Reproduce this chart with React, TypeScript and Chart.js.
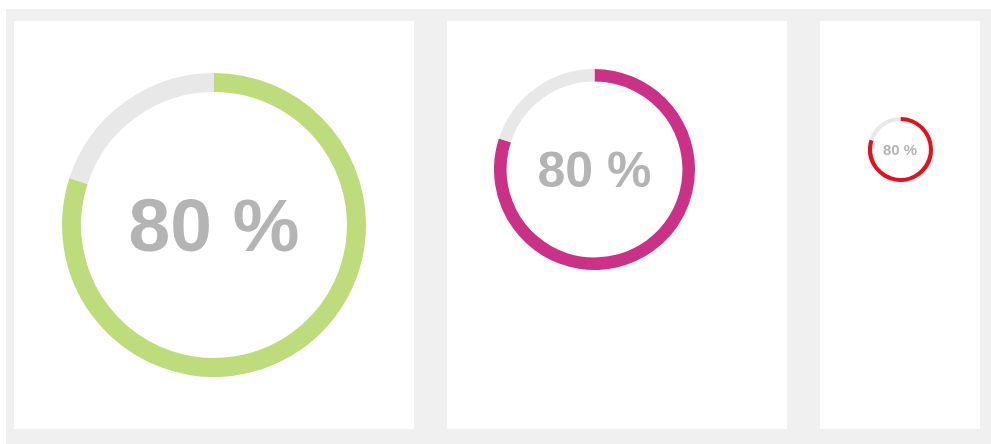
import React, { useEffect, useRef } from "react";
import { Chart, registerables } from "chart.js";

Chart.register(...registerables);

// Data
const gaugeLabels = ["Completed", "Remaining"];
const percents = [80, 80, 80];
const gaugeColors = ["#bedc7c", "#cc3188", "#e3111d"];
const trackColor = "#e8e8e8";

// Layout per panel (px)
const panelLefts = [8, 441, 814];
const panelWidths = [400, 340, 160];
const ringSizes = [304, 201, 65];
const ringLefts = [48, 47, 47.5];
const ringTops = [52, 48, 95.5];
const fontSizes = [75, 50, 15];

function Gauge({ idx }: { idx: number }) {
  const ref = useRef<HTMLCanvasElement | null>(null);
  useEffect(() => {
    if (!ref.current) return;
    const p = percents[idx];
    const chart = new Chart(ref.current, {
      type: "doughnut",
      data: {
        labels: gaugeLabels,
        datasets: [
          {
            data: [p, 100 - p],
            backgroundColor: [gaugeColors[idx], trackColor],
            borderWidth: 0,
            hoverOffset: 0,
          },
        ],
      },
      options: {
        responsive: false,
        animation: false,
        cutout: "87.5%",
        layout: { padding: 0 },
        plugins: { legend: { display: false }, tooltip: { enabled: false } },
        events: [],
      },
    });
    return () => chart.destroy();
  }, [idx]);
  const size = ringSizes[idx];
  return (
    <div
      style={{
        position: "absolute",
        left: ringLefts[idx],
        top: ringTops[idx],
        width: size,
        height: size,
      }}
    >
      <canvas ref={ref} width={size} height={size} style={{ display: "block", width: size, height: size }} />
      <div
        style={{
          position: "absolute",
          inset: 0,
          display: "flex",
          alignItems: "center",
          justifyContent: "center",
          fontFamily: "'Liberation Sans', Arial, sans-serif",
          fontWeight: "bold",
          fontSize: fontSizes[idx],
          lineHeight: 1,
          color: "#b4b4b4",
          whiteSpace: "nowrap",
        }}
      >
        {percents[idx]} %
      </div>
    </div>
  );
}

export default function App() {
  return (
    <div
      style={{
        position: "fixed",
        left: 6,
        top: 9,
        right: 0,
        bottom: 0,
        background: "#f0f0f0",
      }}
    >
      {panelLefts.map((l, i) => (
        <div
          key={i}
          style={{
            position: "absolute",
            left: l,
            top: 12,
            width: panelWidths[i],
            height: 408,
            background: "#ffffff",
          }}
        >
          <Gauge idx={i} />
        </div>
      ))}
    </div>
  );
}
